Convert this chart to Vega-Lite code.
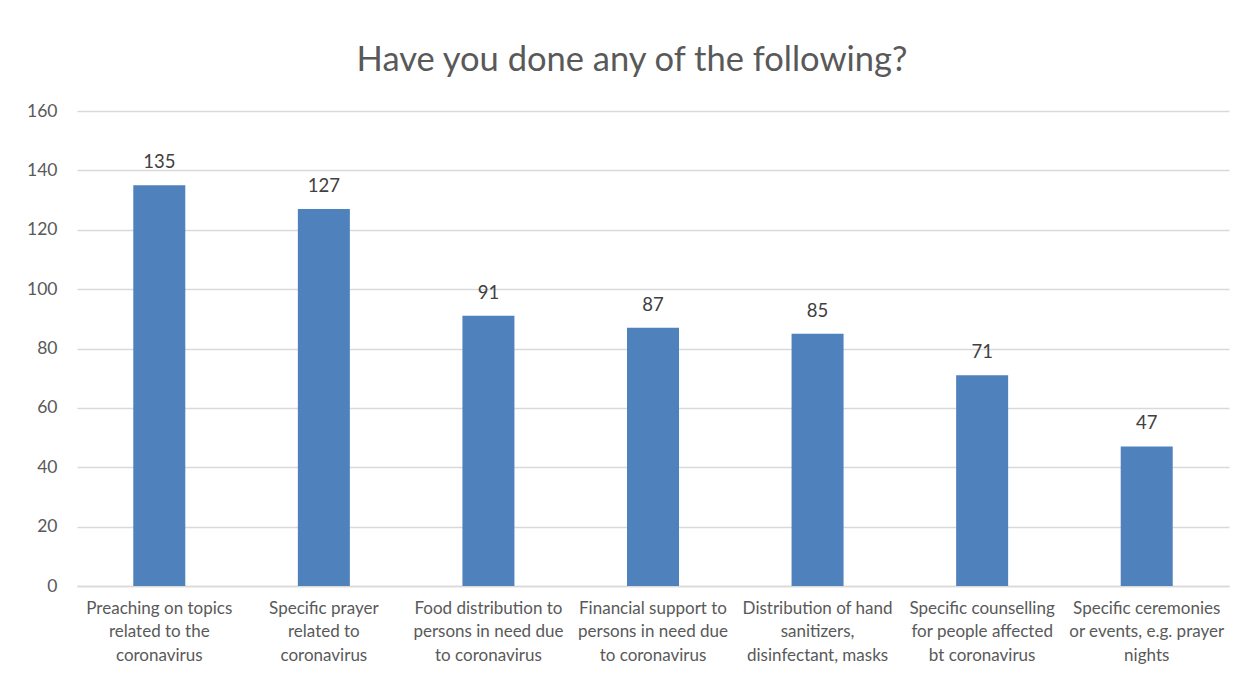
{
  "$schema": "https://vega.github.io/schema/vega-lite/v6.json",
  "width": 1152,
  "height": 475,
  "autosize": "none",
  "padding": {"left": 77, "top": 111, "right": 19, "bottom": 91},
  "background": "white",
  "config": {
    "view": {"stroke": null},
    "font": "Lato"
  },
  "title": {
    "text": "Have you done any of the following?",
    "anchor": "middle",
    "fontSize": 34.5,
    "fontWeight": "normal",
    "color": "#595959",
    "font": "Lato",
    "offset": 24,
    "dx": -21
  },
  "data": {
    "values": [
      {"activity": "Preaching on topics\nrelated to the\ncoronavirus", "count": 135},
      {"activity": "Specific prayer\nrelated to\ncoronavirus", "count": 127},
      {"activity": "Food distribution to\npersons in need due\nto coronavirus", "count": 91},
      {"activity": "Financial support to\npersons in need due\nto coronavirus", "count": 87},
      {"activity": "Distribution of hand\nsanitizers,\ndisinfectant, masks", "count": 85},
      {"activity": "Specific counselling\nfor people affected\nbt coronavirus", "count": 71},
      {"activity": "Specific ceremonies\nor events, e.g. prayer\nnights", "count": 47}
    ]
  },
  "encoding": {
    "x": {
      "field": "activity",
      "type": "nominal",
      "sort": null,
      "scale": {"paddingInner": 0.684, "paddingOuter": 0.342},
      "axis": {
        "title": null,
        "labelAngle": 0,
        "labelExpr": "split(datum.label, '\\n')",
        "labelFontSize": 17,
        "labelColor": "#595959",
        "labelLineHeight": 23.5,
        "labelPadding": 14,
        "labelLimit": 300,
        "ticks": false,
        "domainColor": "#D9D9D9",
        "domainWidth": 1.3
      }
    },
    "y": {
      "field": "count",
      "type": "quantitative",
      "scale": {"domain": [0, 160]},
      "axis": {
        "title": null,
        "values": [0, 20, 40, 60, 80, 100, 120, 140, 160],
        "labelFontSize": 17.5,
        "labelColor": "#595959",
        "labelPadding": 20,
        "ticks": false,
        "domain": false,
        "gridColor": "#D9D9D9",
        "gridWidth": 1.3
      }
    }
  },
  "layer": [
    {"mark": {"type": "bar", "color": "#4F81BD"}},
    {
      "mark": {"type": "text", "baseline": "alphabetic", "dy": -17, "fontSize": 18.5, "color": "#404040"},
      "encoding": {"text": {"field": "count", "type": "quantitative"}}
    }
  ]
}
